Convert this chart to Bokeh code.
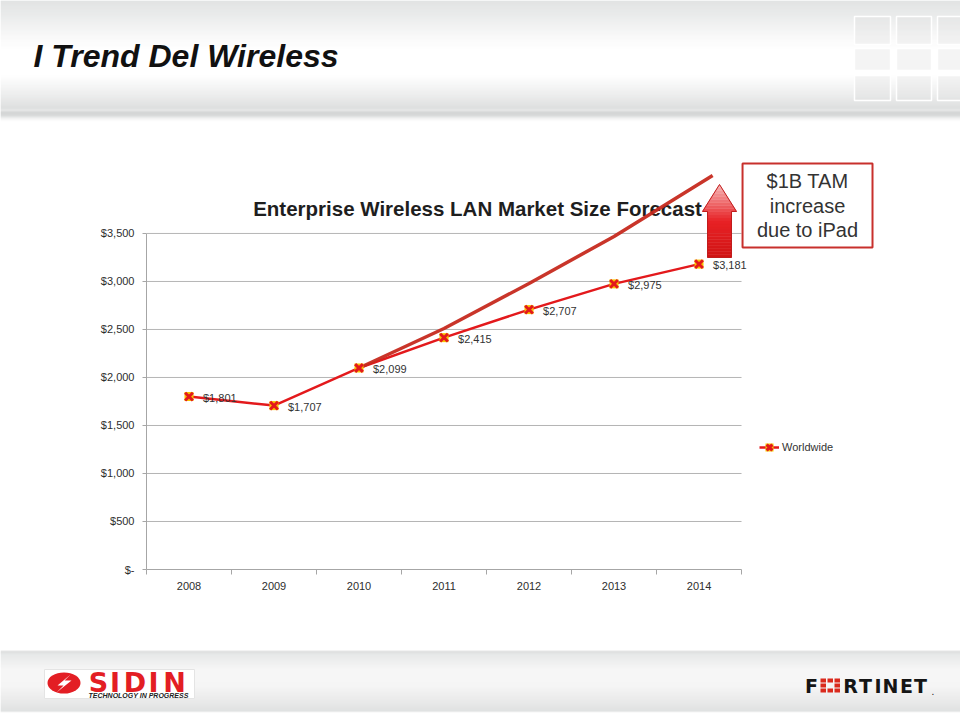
import numpy as np
from bokeh.plotting import figure
from bokeh.models import Range1d, FixedTicker, Legend, LegendItem, ColumnDataSource
from bokeh.layouts import column
from bokeh.embed import file_html
from bokeh.resources import INLINE
from bokeh.core.properties import value

# ---------------- data ----------------
years = ["2008", "2009", "2010", "2011", "2012", "2013", "2014"]
market = [1801, 1707, 2099, 2415, 2707, 2975, 3181]
value_labels = ["$1,801", "$1,707", "$2,099", "$2,415", "$2,707", "$2,975", "$3,181"]
y_ticks = [0, 500, 1000, 1500, 2000, 2500, 3000, 3500]
y_tick_labels = ["$-", "$500", "$1,000", "$1,500", "$2,000", "$2,500", "$3,000", "$3,500"]
# hand-drawn iPad-adjusted projection
ipad_years = [2010, 2011, 2012, 2013, 2014.16]
ipad_values = [2099, 2510, 2979, 3469, 4104]
# $1B increase arrow (from / to, in $M)
arrow_from = 3250
arrow_to = 4010

slide_title = "I Trend Del Wireless"
chart_title = "Enterprise Wireless LAN Market Size Forecast"
callout_lines = ["$1B TAM", "increase", "due to iPad"]
series_name = "Worldwide"

FONT = "Liberation Sans"
W = 960


def hex2rgb(h):
    h = h.lstrip("#")
    return [int(h[i:i + 2], 16) for i in (0, 2, 4)]


def gradient_rows(stops, y0, y1):
    pos = [s[0] for s in stops]
    cols = np.array([hex2rgb(s[1]) for s in stops], dtype=float)
    rows = np.arange(y0, y1)
    out = []
    for r in rows:
        c = [np.interp(r + 0.5, pos, cols[:, k]) for k in range(3)]
        out.append("#%02x%02x%02x" % tuple(int(round(v)) for v in c))
    return rows, out


def bare(fig):
    fig.grid.visible = False
    fig.outline_line_color = None
    fig.background_fill_color = "white"
    fig.border_fill_color = "white"
    fig.frame_align = False


# ---------------- header ----------------
H1 = 140
h = figure(width=W, height=H1, x_range=Range1d(0, W), y_range=Range1d(H1, 0),
           min_border=0, toolbar_location=None, output_backend="svg",
           x_axis_type=None, y_axis_type=None)
bare(h)
hstops = [(0, "#d8dada"), (14, "#e2e4e4"), (38, "#f8f8f8"), (50, "#ffffff"), (75, "#ffffff"),
          (95, "#e6e7e7"), (108, "#d2d4d4"), (110, "#e2e4e4"), (112, "#c4c6c6"), (115, "#cacccc"),
          (118, "#eeeeee"), (121, "#ffffff"), (140, "#ffffff")]
rows, cols = gradient_rows(hstops, 0, H1)
h.quad(left=0, right=W, top=rows, bottom=rows + 1, fill_color=cols, line_color=None)
sq_cols = [(854, 890), (896, 931), (937, 965)]
sq_rows = [(16, 44), (48, 70), (75, 100)]
ql, qr, qt, qb = [], [], [], []
for (a, b) in sq_cols:
    for (c, d) in sq_rows:
        ql.append(a); qr.append(b); qt.append(c); qb.append(d)
h.quad(left=ql, right=qr, top=qt, bottom=qb, fill_color="#d9dbdb", fill_alpha=0.3,
       line_color="#ffffff", line_width=1.5)
h.text(x=[33], y=[55], text=[slide_title], text_font=value(FONT), text_font_style="bold italic",
       text_font_size="32px", text_color="#111111", text_baseline="middle", text_align="left")

# ---------------- chart ----------------
H2 = 505
XEND = 8.635
p = figure(width=W, height=H2, x_range=Range1d(0, XEND), y_range=Range1d(0, 4260),
           min_border_left=146, min_border_right=80, min_border_top=20, min_border_bottom=76,
           toolbar_location=None, output_backend="svg")
bare(p)

xa = p.xaxis[0]
xa.ticker = FixedTicker(ticks=[i + 0.5 for i in range(len(years))], minor_ticks=list(range(len(years) + 1)))
xa.major_label_overrides = {i + 0.5: yv for i, yv in enumerate(years)}
xa.bounds = (0, len(years))
xa.major_tick_out = 0
xa.major_tick_in = 0
xa.minor_tick_out = 5
xa.minor_tick_in = 0
xa.axis_line_color = "#a6a6a6"
xa.minor_tick_line_color = "#a6a6a6"
xa.major_label_standoff = 7
xa.major_label_text_font = FONT
xa.major_label_text_font_size = "11px"
xa.major_label_text_color = "#2e2e2e"

ya = p.yaxis[0]
ya.ticker = FixedTicker(ticks=y_ticks)
ya.major_label_overrides = dict(zip(y_ticks, y_tick_labels))
ya.bounds = (y_ticks[0], y_ticks[-1])
ya.major_tick_out = 4
ya.major_tick_in = 0
ya.minor_tick_out = 0
ya.minor_tick_in = 0
ya.axis_line_color = "#a6a6a6"
ya.major_tick_line_color = "#a6a6a6"
ya.major_label_standoff = 8
ya.major_label_text_font = FONT
ya.major_label_text_font_size = "11px"
ya.major_label_text_color = "#2e2e2e"

# gridlines (only across the category span)
p.segment(x0=0, x1=len(years), y0=y_ticks[1:], y1=y_ticks[1:], line_color="#b5b5b5", line_width=1)

# chart title
p.text(x=[3.894], y=[3760], text=[chart_title], text_font=value(FONT), text_font_style="bold",
       text_font_size="20.5px", text_color="#1e1e1e", text_align="center", text_baseline="middle")

xs = [i + 0.5 for i in range(len(years))]
src = ColumnDataSource(dict(x=xs, y=market, label=value_labels))
ln = p.line("x", "y", source=src, line_color="#e3191c", line_width=2.5)

# iPad projection line
ipad_x = [yr - int(years[0]) + 0.5 for yr in ipad_years]
p.line(ipad_x, ipad_values, line_color="#c62a1f", line_width=3.5, line_alpha=0.95)

sq = p.scatter("x", "y", source=src, marker="square", size=9, fill_color="#f7c400", line_color=None)
xm = p.scatter("x", "y", source=src, marker="x", size=11, line_color="#e3191c", line_width=3)
p.text("x", "y", text="label", source=src, x_offset=14, y_offset=1, text_font=value(FONT),
       text_font_size="11px", text_color="#333333", text_baseline="middle", text_align="left")

# up arrow with vertical gradient
cx = 6.741
hw_head, hw_shaft = 0.2, 0.141
head_base = 3729


def half_w(yv):
    if yv <= head_base:
        return hw_shaft
    return hw_head * (arrow_to - yv) / (arrow_to - head_base)


N = 24
edges = np.linspace(arrow_from, arrow_to, N + 1)
top_c, mid_c, bot_c = hex2rgb("#f7b8b8"), hex2rgb("#e82226"), hex2rgb("#d01515")
pxs, pys, pcs = [], [], []
for i in range(N):
    y0, y1 = edges[i], edges[i + 1]
    segs = [(y0, y1)]
    if y0 < head_base < y1:
        segs = [(y0, head_base), (head_base, y1)]
    t = (0.5 * (y0 + y1) - arrow_from) / (arrow_to - arrow_from)
    if t > 0.5:
        fr = (t - 0.5) / 0.5
        c = [m + (tc - m) * fr for m, tc in zip(mid_c, top_c)]
    else:
        fr = t / 0.5
        c = [b + (m - b) * fr for b, m in zip(bot_c, mid_c)]
    col = "#%02x%02x%02x" % tuple(int(v) for v in c)
    for (a, b) in segs:
        wa = hw_head if a == head_base else half_w(a)
        wb = half_w(b)
        pxs.append([cx - wa, cx + wa, cx + wb, cx - wb])
        pys.append([a, a, b, b])
        pcs.append(col)
p.patches(pxs, pys, fill_color=pcs, line_color=pcs, line_width=0.5)
p.patch([cx - hw_shaft, cx + hw_shaft, cx + hw_shaft, cx + hw_head, cx, cx - hw_head, cx - hw_shaft],
        [arrow_from, arrow_from, head_base, head_base, arrow_to, head_base, head_base],
        fill_color=None, line_color="#c01c1c", line_width=1)

# callout box
p.quad(left=[7.012], right=[8.541], bottom=[3354], top=[4229], fill_color="white",
       line_color="#c8302c", line_width=2)
p.text(x=[7.776] * 3, y=[4042, 3781, 3531], text=callout_lines, text_font=value(FONT),
       text_font_size="20px", text_color="#333333", text_align="center", text_baseline="middle")

legend = Legend(items=[LegendItem(label=series_name, renderers=[ln, sq, xm])], location=(613, 112))
legend.border_line_color = None
legend.background_fill_alpha = 0
legend.label_text_font = FONT
legend.label_text_font_size = "11px"
legend.label_text_color = "#333333"
legend.glyph_width = 20
legend.label_standoff = 3
p.add_layout(legend)

# ---------------- footer ----------------
F0 = 645
H3 = 75
f = figure(width=W, height=H3, x_range=Range1d(0, W), y_range=Range1d(F0 + H3, F0),
           min_border=0, toolbar_location=None, output_backend="svg",
           x_axis_type=None, y_axis_type=None)
bare(f)
fstops = [(645, "#ffffff"), (650, "#ffffff"), (651, "#cfd1d1"), (654, "#dfe1e1"), (670, "#f4f4f4"),
          (686, "#f2f2f2"), (700, "#e3e4e4"), (711, "#d5d7d7"), (712, "#ffffff"), (720, "#ffffff")]
rows, cols = gradient_rows(fstops, F0, F0 + H3)
f.quad(left=0, right=W, top=rows, bottom=rows + 1, fill_color=cols, line_color=None)

# SIDIN logo
f.quad(left=[44], right=[194], top=[669], bottom=[698], fill_color="white", line_color="#e4e4e4")
f.ellipse(x=[63.5], y=[682.5], width=33, height=21, fill_color="#e31e24", line_color=None)
f.patch([70, 57, 63, 56, 71, 64, 70], [674, 685, 685, 692, 680, 680, 674],
        fill_color="white", line_color=None)
f.text(x=[98, 114.5, 134.5, 153, 174], y=[682] * 5, text=["S", "I", "D", "I", "N"],
       text_font=value("DejaVu Sans"), text_font_style="bold", text_font_size="27px",
       text_color="#e31e24", text_align="center", text_baseline="middle")
f.text(x=[138], y=[695], text=["TECHNOLOGY IN PROGRESS"], text_font=value(FONT),
       text_font_style="bold italic", text_font_size="7px", text_color="#222222",
       text_align="center", text_baseline="middle")

# FORTINET logo
f.text(x=[811, 850, 865, 877.5, 890, 906, 920], y=[685] * 7,
       text=["F", "R", "T", "I", "N", "E", "T"], text_font=value("DejaVu Sans"),
       text_font_style="bold", text_font_size="19px", text_color="#151515",
       text_align="center", text_baseline="middle")
ol, orr, ot, ob = [], [], [], []
for r in range(3):
    for c in range(3):
        if r == 1 and c == 1:
            continue
        ol.append(820 + c * 7); orr.append(820 + c * 7 + 5.5)
        ot.append(678 + r * 5); ob.append(678 + r * 5 + 4)
f.quad(left=ol, right=orr, top=ot, bottom=ob, fill_color="#da291c", line_color=None)
f.text(x=[931], y=[690], text=["."], text_font=value(FONT), text_font_size="10px",
       text_color="#151515", text_baseline="middle")

layout = column(h, p, f, spacing=0)
open("out.html", "w").write(file_html(layout, INLINE))
